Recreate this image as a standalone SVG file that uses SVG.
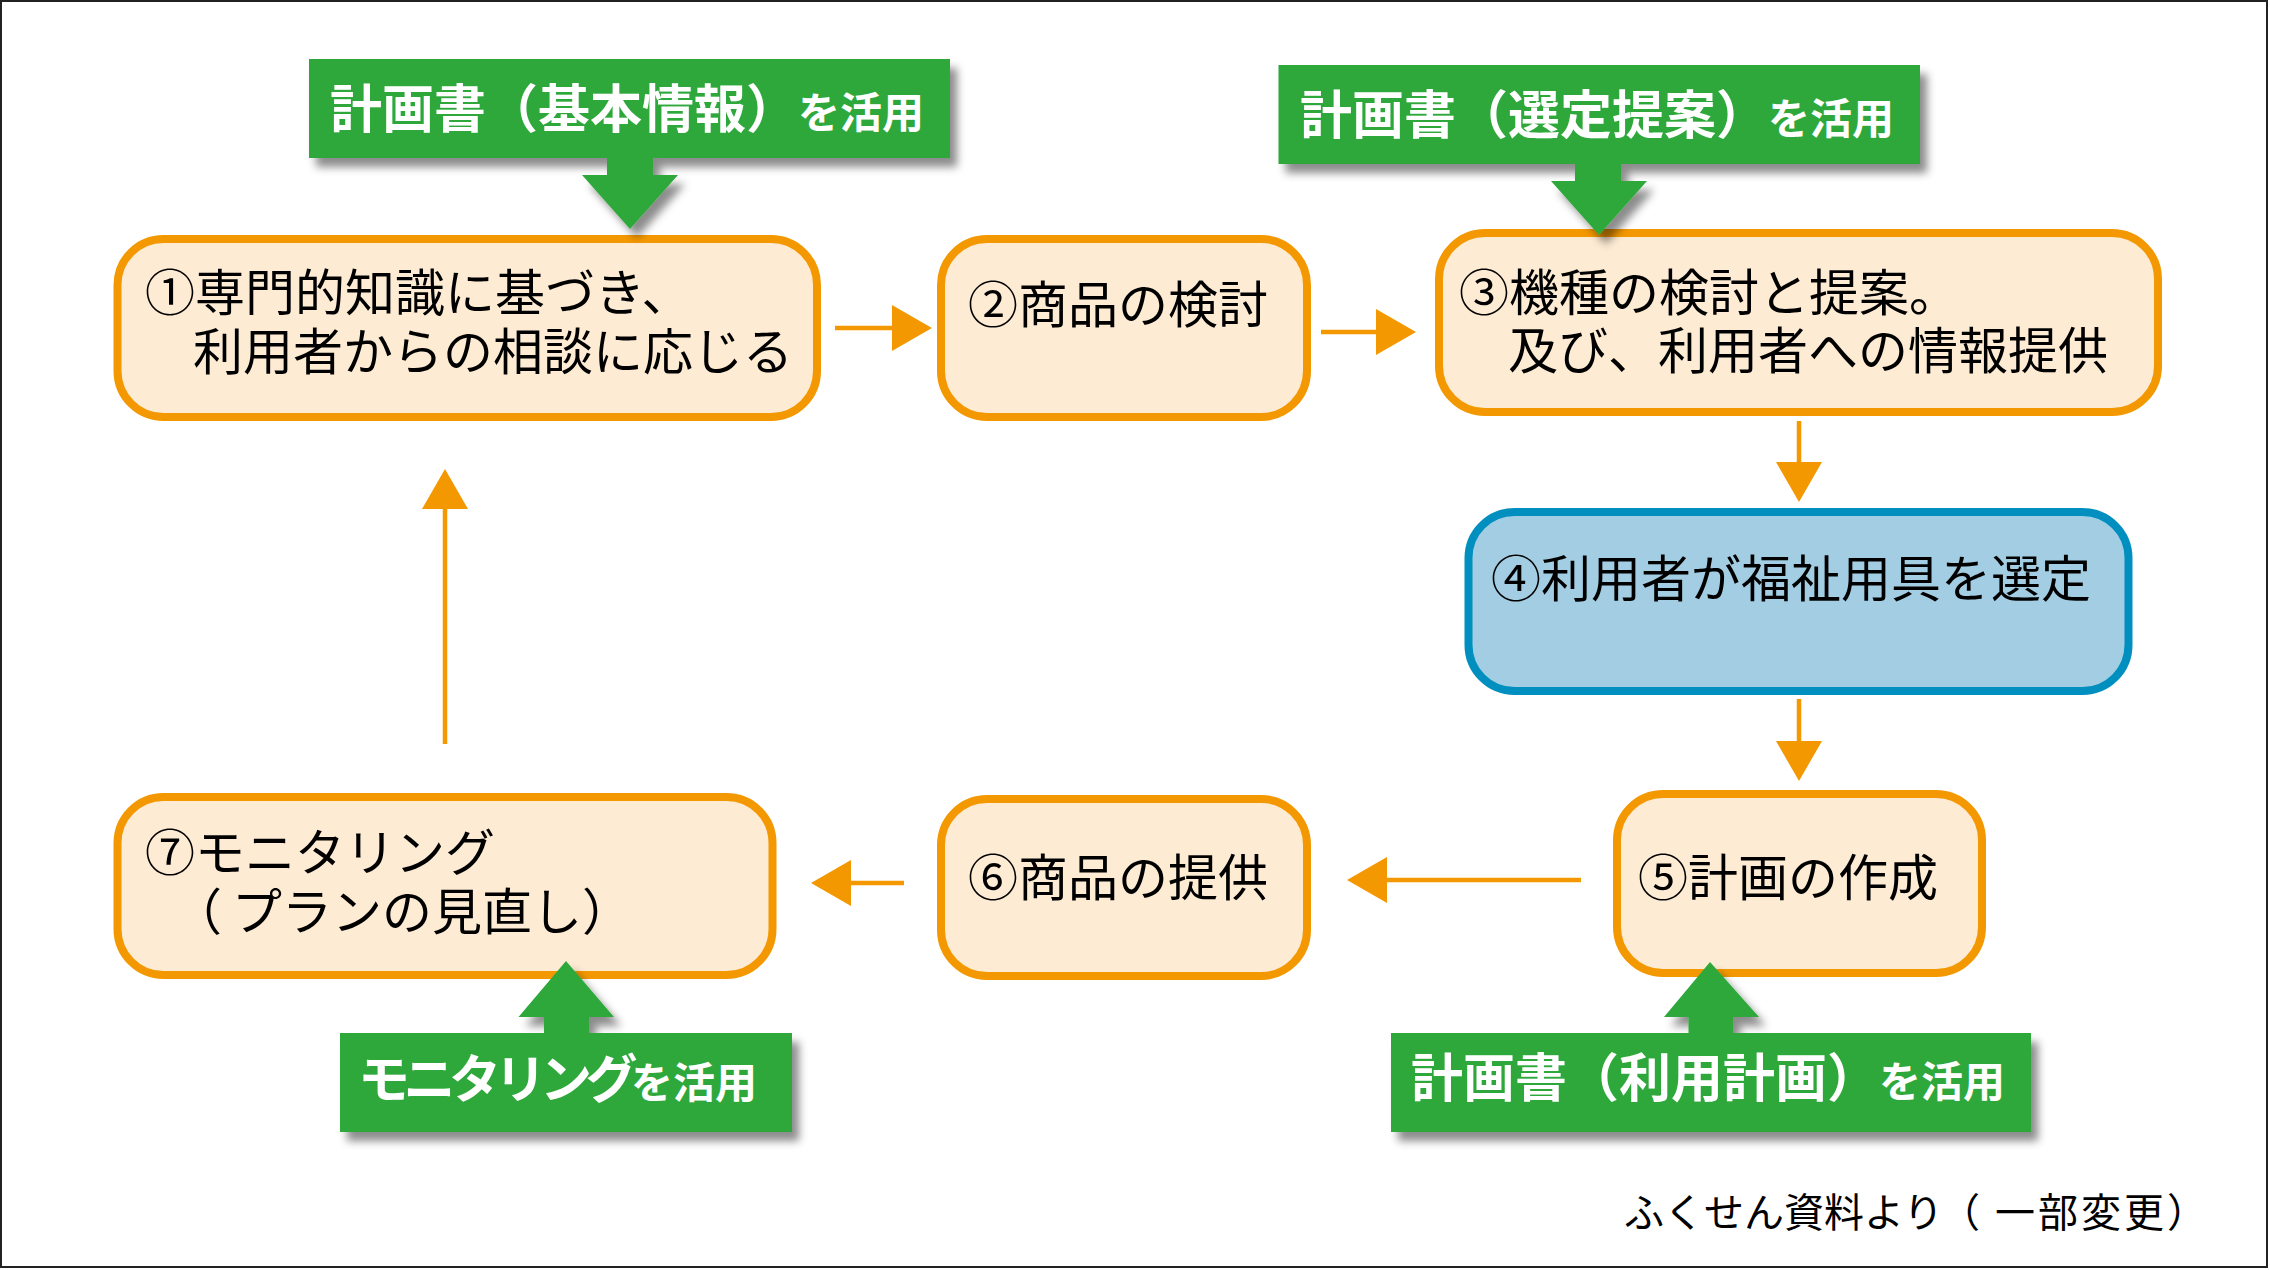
<svg xmlns="http://www.w3.org/2000/svg" width="2270" height="1270" viewBox="0 0 2270 1270">
  <style>
    .node { fill: #FDEBD3; stroke: #F39800; stroke-width: 8; }
    .node-blue { fill: #A2CDE2; stroke: #008FBE; stroke-width: 8; }
    .ntext { font-family: "Liberation Sans", "Noto Sans CJK JP", sans-serif; font-size: 50px; fill: #000; }
    .conn { stroke: #F39800; stroke-width: 4.5; fill: none; marker-end: url(#ah); }
    .callout { fill: #2EA83A; filter: url(#shadow); }
    .ctext { font-family: "Liberation Sans", "Noto Sans CJK JP", sans-serif; font-weight: bold; fill: #fff; font-size: 52px; }
    .csmall { font-size: 42px; }
    .footer { font-family: "Liberation Sans", "Noto Sans CJK JP", sans-serif; font-size: 40px; fill: #000; }
  </style>
  <defs>
    <marker id="ah" markerUnits="userSpaceOnUse" markerWidth="40" markerHeight="46" viewBox="0 0 40 46" refX="1" refY="23" orient="auto">
      <path d="M0,0 L40,23 L0,46 Z" fill="#F39800"/>
    </marker>
    <filter id="shadow" x="-10%" y="-10%" width="130%" height="140%">
      <feDropShadow dx="7" dy="9" stdDeviation="4" flood-color="#000" flood-opacity="0.45"/>
    </filter>
  </defs>
  <rect x="0" y="0" width="2270" height="1270" fill="#fff"/>
  <rect x="1" y="1" width="2266" height="1266" fill="none" stroke="#222" stroke-width="2"/>

  <g id="connectors">
    <line class="conn" x1="835" y1="328" x2="893" y2="328"/>
    <line class="conn" x1="1321" y1="332" x2="1377" y2="332"/>
    <line class="conn" x1="1799" y1="421" x2="1799" y2="463"/>
    <line class="conn" x1="1799" y1="699" x2="1799" y2="742"/>
    <line class="conn" x1="1581" y1="880" x2="1386" y2="880"/>
    <line class="conn" x1="904" y1="883" x2="850" y2="883"/>
    <line class="conn" x1="445" y1="744" x2="445" y2="508"/>
  </g>

  <g id="node1">
    <rect class="node" x="117.5" y="239" width="699.5" height="178" rx="46" ry="46"/>
    <text class="ntext"><tspan x="145" y="311">①専門的知識に基づき、</tspan><tspan x="193" y="370">利用者からの相談に応じる</tspan></text>
  </g>
  <g id="node2">
    <rect class="node" x="941" y="239" width="366" height="178" rx="46" ry="46"/>
    <text class="ntext" x="968" y="323">②商品の検討</text>
  </g>
  <g id="node3">
    <rect class="node" x="1439" y="233" width="719" height="179" rx="46" ry="46"/>
    <text class="ntext"><tspan x="1459" y="311">③機種の検討と提案。</tspan><tspan x="1508" y="369">及び、利用者への情報提供</tspan></text>
  </g>
  <g id="node4">
    <rect class="node-blue" x="1468.5" y="512" width="660" height="179" rx="46" ry="46"/>
    <text class="ntext" x="1491" y="597">④利用者が福祉用具を選定</text>
  </g>
  <g id="node5">
    <rect class="node" x="1617" y="794" width="365" height="179" rx="46" ry="46"/>
    <text class="ntext" x="1638" y="896">⑤計画の作成</text>
  </g>
  <g id="node6">
    <rect class="node" x="941" y="799" width="366" height="177" rx="46" ry="46"/>
    <text class="ntext" x="968" y="896">⑥商品の提供</text>
  </g>
  <g id="node7">
    <rect class="node" x="117.5" y="797" width="655" height="178" rx="46" ry="46"/>
    <text class="ntext"><tspan x="145" y="871">⑦モニタリング</tspan><tspan x="172" y="930">（</tspan><tspan x="232" y="930">プランの見直し）</tspan></text>
  </g>

  <g id="callout1">
    <path class="callout" d="M309,59 H950 V158 H653 V175 H678 L630,229 L582,175 H607 V158 H309 Z"/>
    <text class="ctext" x="330" y="128">計画書（基本情報）<tspan class="csmall">を活用</tspan></text>
  </g>
  <g id="callout3">
    <path class="callout" d="M1278.5,65 H1920 V164 H1621 V181 H1647 L1599,235 L1551,181 H1575 V164 H1278.5 Z"/>
    <text class="ctext" x="1300" y="134">計画書（選定提案）<tspan class="csmall">を活用</tspan></text>
  </g>
  <g id="callout7">
    <path class="callout" d="M340,1132 V1033 H544 V1017 H518.5 L566,961 L614,1017 H589 V1033 H792 V1132 Z"/>
    <text class="ctext" x="358" y="1098"><tspan letter-spacing="-6.5">モニタリング</tspan><tspan class="csmall">を活用</tspan></text>
  </g>
  <g id="callout5">
    <path class="callout" d="M1391,1132 V1033 H1688.5 V1017 H1664 L1710,962 L1759,1017 H1733 V1033 H2031 V1132 Z"/>
    <text class="ctext" x="1411" y="1097">計画書（利用計画）<tspan class="csmall">を活用</tspan></text>
  </g>

  <g id="footer">
    <text class="footer" y="1227"><tspan x="1624">ふくせん資料より</tspan><tspan x="1940">（</tspan><tspan x="1995" letter-spacing="3">一部変更</tspan><tspan x="2167">）</tspan></text>
  </g>
</svg>
